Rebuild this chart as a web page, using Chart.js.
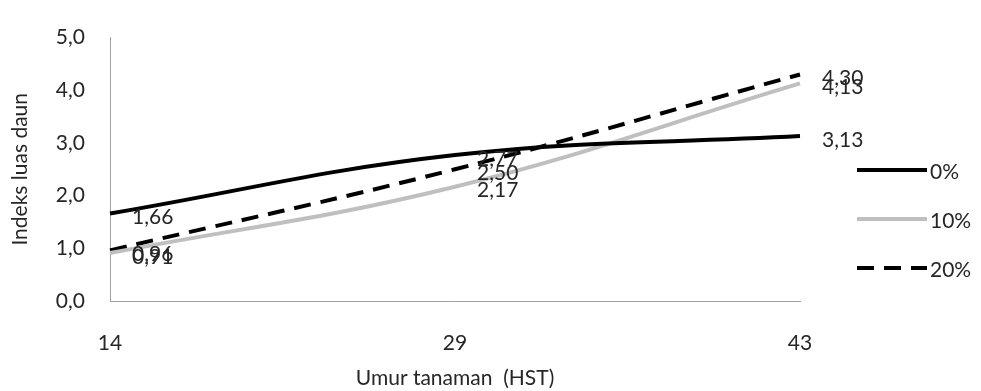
<!DOCTYPE html>
<html>
<head>
<meta charset="utf-8">
<script src="https://cdn.jsdelivr.net/npm/chart.js@4/dist/chart.umd.min.js"></script>
<style>
  html, body { margin: 0; padding: 0; background: #ffffff; }
  #wrap { width: 981px; height: 391px; }
</style>
</head>
<body>
<div id="wrap"><canvas id="c" width="981" height="391"></canvas></div>
<script>
// Umur tanaman (HST) and leaf-area index per treatment
const ages = ['14', '29', '43'];
const seriesNames = ['0%', '10%', '20%'];
const lai0 = [1.66, 2.77, 3.13];
const lai10 = [0.91, 2.17, 4.13];
const lai20 = [0.96, 2.50, 4.30];
const yTicks = [0, 1, 2, 3, 4, 5];

const FONT = 'Lato, "Open Sans", sans-serif';
const FS = 21;
const TEXT = '#262626';
const fmt = (v, d) => v.toFixed(d).replace('.', ',');

// value labels to the right of each point
const labelPlugin = {
  id: 'valueLabels',
  afterDatasetsDraw(chart) {
    const ctx = chart.ctx;
    ctx.save();
    ctx.font = FS + 'px ' + FONT;
    ctx.fillStyle = TEXT;
    ctx.textBaseline = 'middle';
    ctx.textAlign = 'left';
    chart.data.datasets.forEach((ds, di) => {
      const meta = chart.getDatasetMeta(di);
      meta.data.forEach((pt, i) => {
        ctx.fillText(fmt(ds.data[i], 2), pt.x + 22, pt.y + 4);
      });
    });
    ctx.restore();
  }
};

// line-sample legend on the right side
const legendPlugin = {
  id: 'sideLegend',
  afterDraw(chart) {
    const ctx = chart.ctx;
    const x0 = 857, x1 = 927;
    const ys = [170, 219, 268];
    ctx.save();
    chart.data.datasets.forEach((ds, i) => {
      ctx.beginPath();
      ctx.strokeStyle = ds.borderColor;
      ctx.lineWidth = ds.borderWidth;
      ctx.setLineDash(ds.borderDash || []);
      ctx.moveTo(x0, ys[i]);
      ctx.lineTo(x1, ys[i]);
      ctx.stroke();
      ctx.setLineDash([]);
      ctx.font = FS + 'px ' + FONT;
      ctx.fillStyle = TEXT;
      ctx.textBaseline = 'middle';
      ctx.textAlign = 'left';
      ctx.fillText(ds.label, x1 + 3, ys[i] + 2);
    });
    ctx.restore();
  }
};

new Chart(document.getElementById('c'), {
  type: 'line',
  data: {
    labels: ages,
    datasets: [
      { label: seriesNames[0], data: lai0, borderColor: '#000000', borderWidth: 4, tension: 0.4 },
      { label: seriesNames[1], data: lai10, borderColor: '#bfbfbf', borderWidth: 4, tension: 0.4 },
      { label: seriesNames[2], data: lai20, borderColor: '#000000', borderWidth: 4, borderDash: [17, 10], tension: 0.4 }
    ]
  },
  options: {
    responsive: false,
    animation: false,
    events: [],
    layout: { padding: { left: 0, right: 181, top: 24, bottom: 0 } },
    elements: { point: { radius: 0 } },
    plugins: { legend: { display: false }, tooltip: { enabled: false } },
    scales: {
      x: {
        offset: false,
        grid: { display: false, drawTicks: false },
        border: { display: true, color: '#a0a0a0', width: 1 },
        ticks: { color: TEXT, font: { family: FONT, size: FS }, padding: 30, maxRotation: 0, autoSkip: false },
        title: { display: true, text: 'Umur tanaman  (HST)', color: TEXT, font: { family: FONT, size: FS }, padding: { top: 8, bottom: 0 } },
        afterFit: s => { s.height = 90; }
      },
      y: {
        min: 0, max: 5,
        afterBuildTicks: s => { s.ticks = yTicks.map(v => ({ value: v })); },
        grid: { display: false, drawTicks: false },
        border: { display: true, color: '#a0a0a0', width: 1 },
        ticks: { color: TEXT, font: { family: FONT, size: FS }, padding: 25, callback: v => fmt(v, 1) },
        title: { display: true, text: 'Indeks luas daun', color: TEXT, font: { family: FONT, size: FS }, padding: { top: 8, bottom: 0 } },
        afterFit: s => { s.width = 110; }
      }
    }
  },
  plugins: [labelPlugin, legendPlugin]
});
</script>
</body>
</html>
